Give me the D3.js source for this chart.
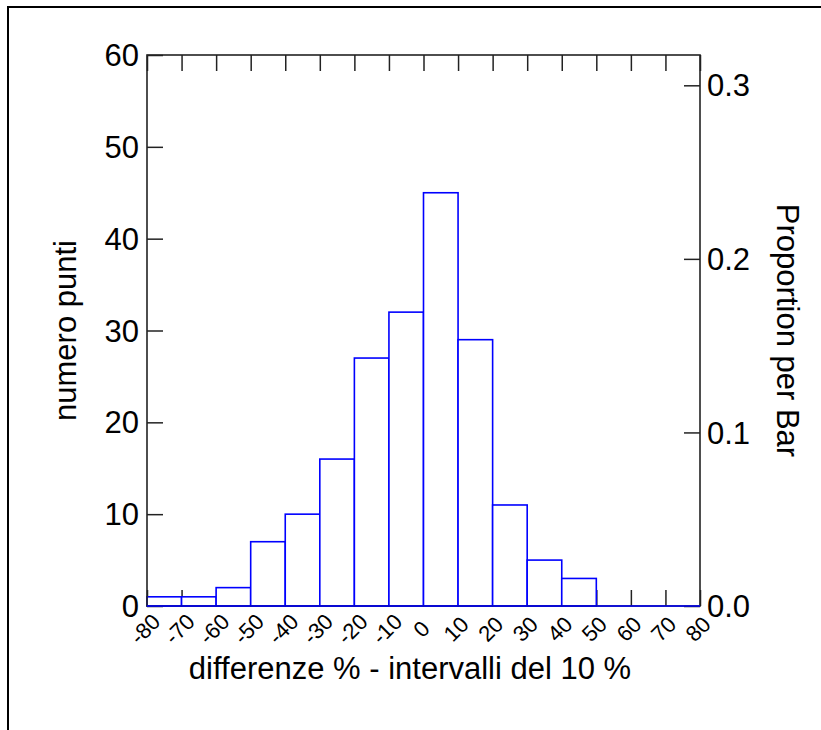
<!DOCTYPE html>
<html>
<head>
<meta charset="utf-8">
<script src="https://cdn.jsdelivr.net/npm/d3@7"></script>
<style>
  body { margin: 0; background: #fff; }
  text { font-family: "Liberation Sans", Arial, sans-serif; fill: #000; }
</style>
</head>
<body>
<div id="chart"></div>
<script>
/* DATA */
const binStarts = [-80, -70, -60, -50, -40, -30, -20, -10, 0, 10, 20, 30, 40, 50, 60, 70];
const counts    = [1, 1, 2, 7, 10, 16, 27, 32, 45, 29, 11, 5, 3, 0, 0, 0];
const binWidth = 10;
const xTicks = [-80, -70, -60, -50, -40, -30, -20, -10, 0, 10, 20, 30, 40, 50, 60, 70, 80];
const yTicks = [0, 10, 20, 30, 40, 50, 60];
const propTicks = [0, 0.1, 0.2, 0.3];

/* LAYOUT */
const W = 821, H = 730;
const plot = { left: 147, right: 700, top: 55, bottom: 606 };
const tickLen = 16;
const total = d3.sum(counts);

const svg = d3.select("#chart").append("svg")
  .attr("width", W).attr("height", H);

// outer border (top and left only)
svg.append("path")
  .attr("d", `M8,${H} L8,7 L${W},7`)
  .attr("fill", "none").attr("stroke", "#000").attr("stroke-width", 2);

// scales
const x = d3.scaleLinear().domain([-80, 80]).range([plot.left, plot.right]);
const y = d3.scaleLinear().domain([0, 60]).range([plot.bottom, plot.top]);
const yProp = d3.scaleLinear().domain([0, 60 / total]).range([plot.bottom, plot.top]);

// axes (ticks pointing inward)
const axLeft = d3.axisRight(y).tickValues(yTicks).tickSize(tickLen).tickFormat("");
const axRight = d3.axisLeft(yProp).tickValues(propTicks).tickSize(tickLen).tickFormat("");
const axTop = d3.axisBottom(x).tickValues(xTicks).tickSize(tickLen).tickFormat("");
const axBottom = d3.axisTop(x).tickValues(xTicks).tickSize(tickLen).tickFormat("");

function styleAxis(g) {
  g.select(".domain").remove();
  g.selectAll("line").attr("stroke", "#222").attr("stroke-width", 1.5);
}

svg.append("g").attr("transform", `translate(${plot.left},0)`).call(axLeft).call(styleAxis);
svg.append("g").attr("transform", `translate(${plot.right},0)`).call(axRight).call(styleAxis);
svg.append("g").attr("transform", `translate(0,${plot.top})`).call(axTop).call(styleAxis);
svg.append("g").attr("transform", `translate(0,${plot.bottom})`).call(axBottom).call(styleAxis);

// bars
svg.append("g").selectAll("rect")
  .data(counts)
  .join("rect")
  .attr("x", (d, i) => x(binStarts[i]))
  .attr("width", (d, i) => x(binStarts[i] + binWidth) - x(binStarts[i]))
  .attr("y", d => y(d))
  .attr("height", d => y(0) - y(d))
  .attr("fill", "#fff")
  .attr("stroke", "#0000ff")
  .attr("stroke-width", 1.6);

// frame
svg.append("rect")
  .attr("x", plot.left).attr("y", plot.top)
  .attr("width", plot.right - plot.left).attr("height", plot.bottom - plot.top)
  .attr("fill", "none").attr("stroke", "#222").attr("stroke-width", 1.6);

// baseline again in blue (zero bars lie on it)
svg.append("g").selectAll("line")
  .data(counts)
  .join("line")
  .attr("x1", (d, i) => x(binStarts[i]))
  .attr("x2", (d, i) => x(binStarts[i] + binWidth))
  .attr("y1", y(0)).attr("y2", y(0))
  .attr("stroke", "#0000ff").attr("stroke-width", 1.6);

// left tick labels
svg.append("g").selectAll("text")
  .data(yTicks)
  .join("text")
  .attr("x", plot.left - 8)
  .attr("y", d => y(d))
  .attr("dy", "0.36em")
  .attr("text-anchor", "end")
  .attr("font-size", 31)
  .text(d => d);

// right tick labels
svg.append("g").selectAll("text")
  .data(propTicks)
  .join("text")
  .attr("x", plot.right + 7)
  .attr("y", d => yProp(d))
  .attr("dy", "0.36em")
  .attr("text-anchor", "start")
  .attr("font-size", 31)
  .text(d => d3.format(".1f")(d));

// bottom tick labels, rotated
svg.append("g").selectAll("text")
  .data(xTicks)
  .join("text")
  .attr("transform", d => `translate(${x(d) - 2},${plot.bottom + 23}) rotate(-45)`)
  .attr("text-anchor", "middle")
  .attr("dy", "0.35em")
  .attr("font-size", 22)
  .text(d => d);

// axis titles
svg.append("text")
  .attr("x", 410).attr("y", 679)
  .attr("text-anchor", "middle")
  .attr("font-size", 31)
  .text("differenze % - intervalli del 10 %");

svg.append("text")
  .attr("transform", `translate(65,${(plot.top + plot.bottom) / 2}) rotate(-90)`)
  .attr("text-anchor", "middle")
  .attr("dy", "0.35em")
  .attr("font-size", 31)
  .text("numero punti");

svg.append("text")
  .attr("transform", `translate(788,${(plot.top + plot.bottom) / 2}) rotate(90)`)
  .attr("text-anchor", "middle")
  .attr("dy", "0.35em")
  .attr("font-size", 31)
  .text("Proportion per Bar");
</script>
</body>
</html>
